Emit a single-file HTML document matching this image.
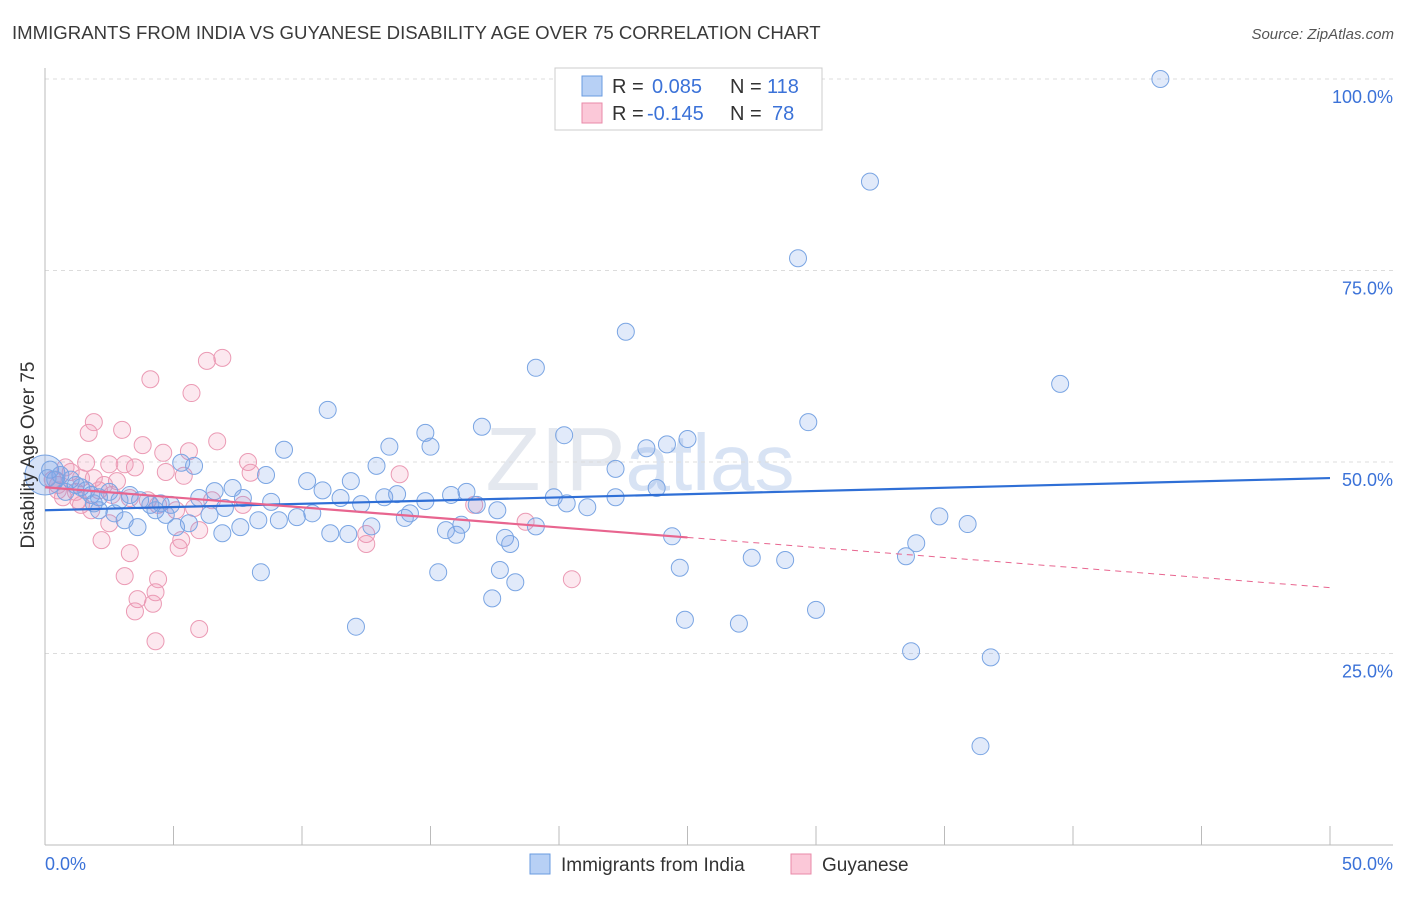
<!DOCTYPE html>
<html><head><meta charset="utf-8"><style>
body{margin:0;background:#fff;font-family:"Liberation Sans",sans-serif;}
svg text{font-family:"Liberation Sans",sans-serif;}
</style></head><body>
<svg id="chart" width="1406" height="892" viewBox="0 0 1406 892">
<text x="12" y="39" font-size="18.6" fill="#3a3a3a">IMMIGRANTS FROM INDIA VS GUYANESE DISABILITY AGE OVER 75 CORRELATION CHART</text>
<text x="1394" y="39" font-size="15" fill="#555" text-anchor="end" font-style="italic">Source: ZipAtlas.com</text>
<text x="640" y="490" font-size="90" fill="#e4e8ef" font-family="Liberation Serif" text-anchor="middle">ZIP<tspan fill="#d8e3f4" font-family="Liberation Sans" font-size="80">atlas</tspan></text>
<g id="grid"></g>
<g id="axes"></g>
<g id="pink"></g>
<g id="blue"></g>
<g id="trends"></g>
<text transform="translate(34,455) rotate(-90)" font-size="19" fill="#333" text-anchor="middle">Disability Age Over 75</text>
<g>
<rect x="555" y="68" width="267" height="62" fill="#fff" stroke="#ccc"/>
<rect x="582" y="76" width="20" height="20" fill="#b7d0f5" stroke="#6a9be0"/>
<rect x="582" y="103" width="20" height="20" fill="#fbc8d8" stroke="#e88aa8"/>
<text x="612" y="93" font-size="20" fill="#333">R =</text>
<text x="652" y="93" font-size="20" fill="#3b72d8">0.085</text>
<text x="730" y="93" font-size="20" fill="#333">N =</text>
<text x="767" y="93" font-size="20" fill="#3b72d8">118</text>
<text x="612" y="120" font-size="20" fill="#333">R =</text>
<text x="647" y="120" font-size="20" fill="#3b72d8">-0.145</text>
<text x="730" y="120" font-size="20" fill="#333">N =</text>
<text x="772" y="120" font-size="20" fill="#3b72d8">78</text>
</g>
<g>
<rect x="530" y="854" width="20" height="20" fill="#b7d0f5" stroke="#6a9be0"/>
<text x="561" y="871" font-size="19" fill="#333">Immigrants from India</text>
<rect x="791" y="854" width="20" height="20" fill="#fbc8d8" stroke="#e88aa8"/>
<text x="822" y="871" font-size="19" fill="#333">Guyanese</text>
</g>
</svg>
<script>
const yTicks=[25,50,75,100];
const yTickLabels=["25.0%","50.0%","75.0%","100.0%"];
const xTickVals=[0,5,10,15,20,25,30,35,40,45,50];
const blueX=[43.4,32.1,29.3,22.6,19.1,39.5,11.0,29.7,17.0,14.8,13.4,20.2,25.0,24.2,23.4,15.0,9.3,5.3,5.8,12.9,22.2,8.6,10.2,11.9,10.8,23.8,6.6,7.3,0.2,0.6,1.0,1.4,1.8,2.1,2.5,2.9,3.3,3.7,4.1,4.5,4.9,6.0,7.7,8.8,11.5,12.3,13.2,13.7,14.8,15.8,16.4,16.8,17.6,19.8,20.3,21.1,22.2,7.0,6.4,8.3,9.1,9.8,10.4,5.6,5.1,3.6,2.7,7.6,6.9,11.1,11.8,12.7,14.0,14.2,15.6,16.0,16.2,17.9,18.1,19.1,24.4,8.4,15.3,17.7,18.3,17.4,12.1,24.7,27.5,28.8,33.5,33.9,34.8,35.9,24.9,27.0,30.0,33.7,36.8,36.4,2.1,1.2,1.6,0.8,1.9,3.1,4.3,4.7,0.4,0.1];
const blueY=[100,86.6,76.6,67.0,62.3,60.2,56.8,55.2,54.6,53.8,52.0,53.5,53.0,52.3,51.8,52.0,51.6,49.9,49.5,49.5,49.1,48.3,47.5,47.5,46.3,46.6,46.2,46.6,49.0,48.3,47.7,46.7,45.7,45.4,46.1,45.0,45.7,45.0,44.4,44.6,44.4,45.3,45.3,44.8,45.3,44.5,45.4,45.8,44.9,45.7,46.1,44.4,43.7,45.4,44.6,44.1,45.4,44.0,43.1,42.4,42.4,42.8,43.3,42.0,41.5,41.5,43.3,41.5,40.7,40.7,40.6,41.6,42.7,43.3,41.1,40.5,41.8,40.1,39.3,41.6,40.3,35.6,35.6,35.9,34.3,32.2,28.5,36.2,37.5,37.2,37.7,39.4,42.9,41.9,29.4,28.9,30.7,25.3,24.5,12.9,43.7,47.0,46.3,46.1,44.6,42.4,43.7,43.1,47.7,47.9];
const pinkX=[6.9,6.3,4.1,5.7,1.9,1.7,3.0,6.7,3.8,5.6,4.6,7.9,1.6,3.1,2.5,3.5,4.7,8.0,5.4,13.8,2.8,2.3,0.8,1.0,1.4,1.9,0.5,0.7,1.2,2.1,2.6,3.3,4.0,4.4,5.1,5.8,6.5,7.7,1.3,1.4,1.8,16.7,18.7,12.5,12.5,5.3,5.2,6.0,2.5,2.2,3.3,3.1,4.4,4.3,3.6,4.2,3.5,4.3,6.0,20.5,0.3,0.5];
const pinkY=[63.6,63.2,60.8,59.0,55.2,53.8,54.2,52.7,52.2,51.4,51.2,50.0,49.9,49.7,49.7,49.3,48.7,48.6,48.2,48.4,47.5,47.0,49.3,48.7,47.9,47.9,46.3,45.4,46.1,46.3,45.7,45.3,45.0,44.4,43.7,44.0,45.0,44.4,45.0,44.4,43.7,44.4,42.2,40.6,39.3,39.8,38.8,41.1,42.0,39.8,38.1,35.1,34.7,33.0,32.1,31.5,30.5,26.6,28.2,34.7,47.7,47.0];
const blueTrend=[43.7,47.9];
const pinkTrend=[46.7,33.6];
const pinkSolidEnd=25;

const NS="http://www.w3.org/2000/svg";
const X0=45,X1=1330,YB=845,YT=79;
const sx=v=>X0+(v/50)*(X1-X0);
const sy=v=>YB-(v/100)*(YB-YT);
function mk(tag,attrs,parent){const e=document.createElementNS(NS,tag);for(const k in attrs)e.setAttribute(k,attrs[k]);parent.appendChild(e);return e;}
const grid=document.getElementById('grid'),axes=document.getElementById('axes');
yTicks.forEach((t,i)=>{
 const l=mk('line',{x1:X0,x2:1393,y1:sy(t),y2:sy(t),stroke:'#dcdcdc','stroke-dasharray':'4,4'},grid);
 
 
 const tx=mk('text',{x:1393,y:sy(t)+24,'font-size':18,fill:'#3b72d8','text-anchor':'end'},axes);
 tx.textContent=yTickLabels[i];
 
 
});
const al=mk('line',{x1:X0,x2:X0,y1:68,y2:YB,stroke:'#bbb'},axes);


const bl=mk('line',{x1:X0,x2:1393,y1:YB,y2:YB,stroke:'#bbb'},axes);


xTickVals.forEach(v=>{
 const t=mk('line',{x1:sx(v),x2:sx(v),y1:826,y2:YB,stroke:'#bbb'},axes);
 
 
});
const xl0=mk('text',{x:45,y:870,'font-size':18,fill:'#3b72d8'},axes);xl0.textContent='0.0%';


const xl1=mk('text',{x:1393,y:870,'font-size':18,fill:'#3b72d8','text-anchor':'end'},axes);xl1.textContent='50.0%';



const pg=document.getElementById('pink'),bg=document.getElementById('blue');
const big=mk('circle',{cx:sx(0),cy:sy(48.3),r:20,fill:'rgba(120,160,230,0.3)',stroke:'#7aa5e3','stroke-width':1},bg);


blueX.forEach((x,i)=>{
 const c=mk('circle',{cx:sx(x),cy:sy(blueY[i]),r:8.5,fill:'rgba(120,160,230,0.22)',stroke:'#7aa5e3','stroke-width':1},bg);
 
 
});
pinkX.forEach((x,i)=>{
 const c=mk('circle',{cx:sx(x),cy:sy(pinkY[i]),r:8.5,fill:'rgba(240,150,180,0.22)',stroke:'#eb9ab4','stroke-width':1},pg);
 
 
});
const tg=document.getElementById('trends');
const bt=mk('line',{x1:sx(0),y1:sy(blueTrend[0]),x2:sx(50),y2:sy(blueTrend[1]),stroke:'#2f6fd6','stroke-width':2.2},tg);


const pAt=x=>pinkTrend[0]+(pinkTrend[1]-pinkTrend[0])*x/50;
const ps=mk('line',{x1:sx(0),y1:sy(pAt(0)),x2:sx(pinkSolidEnd),y2:sy(pAt(pinkSolidEnd)),stroke:'#e8658f','stroke-width':2.2},tg);


const pd=mk('line',{x1:sx(pinkSolidEnd),y1:sy(pAt(pinkSolidEnd)),x2:sx(50),y2:sy(pAt(50)),stroke:'#e8658f','stroke-width':1,'stroke-dasharray':'6,5'},tg);


</script>
</body></html>
